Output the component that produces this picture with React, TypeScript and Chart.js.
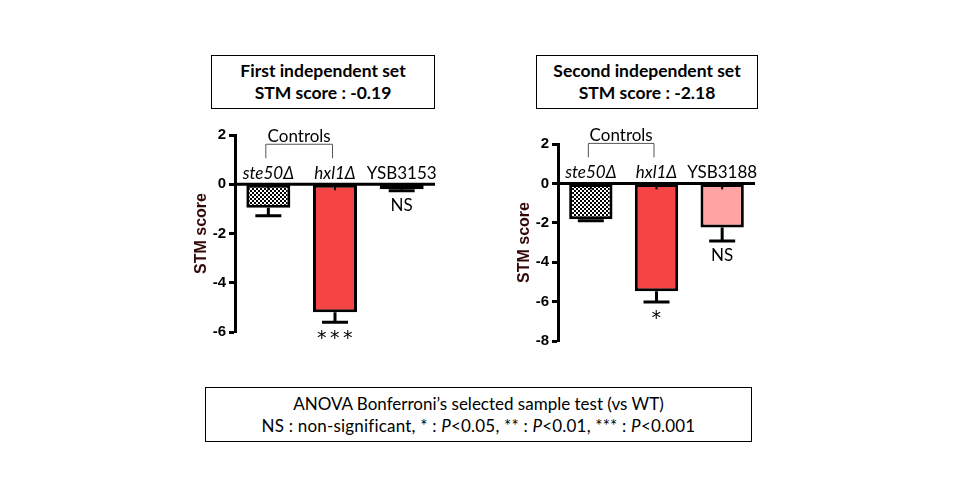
import React, { useEffect, useRef } from "react";
import { Chart, registerables } from "chart.js";
Chart.register(...registerables);

// ---- data ----
const categories1 = ["ste50Δ", "hxl1Δ", "YSB3153"];
const values1 = [-0.95, -5.2, -0.2];
const errors1 = [0.33, 0.4, 0.06];
const signif1 = ["", "***", "NS"];
const yTicks1 = { min: -6, max: 2, step: 2 };

const categories2 = ["ste50Δ", "hxl1Δ", "YSB3188"];
const values2 = [-1.82, -5.48, -2.24];
const errors2 = [0.08, 0.54, 0.68];
const signif2 = ["", "*", "NS"];
const yTicks2 = { min: -8, max: 2, step: 2 };

const italicCats = [true, true, false];
const controlsLabel = "Controls";
const yTitle = "STM score";

const title1 = ["First independent set", "STM score : -0.19"];
const title2 = ["Second independent set", "STM score : -2.18"];

const RED = "#f44444";
const PINK = "#ffa3a3";
const WHITE = "#ffffff";

function makePattern(ctx: CanvasRenderingContext2D) {
  const c = document.createElement("canvas");
  c.width = 4;
  c.height = 4;
  const g = c.getContext("2d")!;
  g.fillStyle = "#fff";
  g.fillRect(0, 0, 4, 4);
  g.fillStyle = "#000";
  g.fillRect(0, 0, 2, 2);
  g.fillRect(2, 2, 2, 2);
  return ctx.createPattern(c, "repeat");
}

type PanelProps = {
  left: number;
  top: number;
  width: number;
  height: number;
  yWidth: number;
  padTop: number;
  padBottom: number;
  padRight: number;
  titlePad: number;
  cats: string[];
  vals: number[];
  errs: number[];
  sig: string[];
  range: { min: number; max: number; step: number };
  thirdColor: string;
};

function Panel(p: PanelProps) {
  const ref = useRef<HTMLCanvasElement>(null);
  useEffect(() => {
    const canvas = ref.current!;
    const ctx0 = canvas.getContext("2d")!;
    const pattern = makePattern(ctx0);
    const annot = {
      id: "annot",
      afterDatasetsDraw(chart: any) {
        const ctx = chart.ctx as CanvasRenderingContext2D;
        const x = chart.scales.x;
        const y = chart.scales.y;
        const area = chart.chartArea;
        const y0 = y.getPixelForValue(0);
        ctx.save();
        // zero line
        ctx.strokeStyle = "#000";
        ctx.lineWidth = 3;
        ctx.beginPath();
        ctx.moveTo(area.left, y0);
        ctx.lineTo(area.right, y0);
        ctx.stroke();
        // error bars
        p.vals.forEach((v, i) => {
          const cx = x.getPixelForValue(i);
          const yEnd = y.getPixelForValue(v);
          const yErr = y.getPixelForValue(v - p.errs[i]);
          ctx.lineWidth = 3;
          ctx.beginPath();
          ctx.moveTo(cx, yEnd);
          ctx.lineTo(cx, yErr);
          ctx.moveTo(cx - 13, yErr);
          ctx.lineTo(cx + 13, yErr);
          ctx.stroke();
          ctx.lineWidth = 2;
          ctx.beginPath();
          ctx.moveTo(cx, y0);
          ctx.lineTo(cx, y0 + 6);
          ctx.stroke();
          // significance
          if (p.sig[i]) {
            ctx.fillStyle = "#000";
            ctx.textAlign = "center";
            ctx.textBaseline = "middle";
            if (p.sig[i].startsWith("*")) {
              ctx.font = "19px 'DejaVu Sans'";
              (ctx as any).letterSpacing = "3.5px";
              ctx.fillText(p.sig[i], cx + 1.5, yErr + 17);
              (ctx as any).letterSpacing = "0px";
            } else {
              ctx.font = "17px Lato";
              ctx.fillText(p.sig[i], cx, yErr + 15);
            }
          }
          // category label
          ctx.fillStyle = "#000";
          ctx.textAlign = "center";
          ctx.textBaseline = "middle";
          ctx.font = (italicCats[i] ? "italic " : "") + "17px Lato";
          ctx.fillText(p.cats[i], cx, y0 - 11);
        });
        // controls bracket
        const c0 = x.getPixelForValue(0);
        const c1 = x.getPixelForValue(1);
        ctx.strokeStyle = "#555";
        ctx.lineWidth = 1;
        ctx.beginPath();
        ctx.moveTo(c0 - 2.5, y0 - 26);
        ctx.lineTo(c0 - 2.5, y0 - 40);
        ctx.lineTo(c1 - 2.5, y0 - 40);
        ctx.lineTo(c1 - 2.5, y0 - 26);
        ctx.stroke();
        ctx.fillStyle = "#000";
        ctx.font = "17px Lato";
        ctx.textAlign = "center";
        ctx.textBaseline = "middle";
        ctx.fillText(controlsLabel, (c0 + c1) / 2 - 2.5, y0 - 48);
        ctx.restore();
      },
    };
    const chart = new Chart(canvas, {
      type: "bar",
      data: {
        labels: p.cats,
        datasets: [
          {
            data: p.vals,
            backgroundColor: [pattern as any, RED, p.thirdColor],
            borderColor: "#000",
            borderWidth: 3,
            borderSkipped: false,
            barPercentage: 0.66,
            categoryPercentage: 1,
          },
        ],
      },
      options: {
        animation: false,
        responsive: false,
        maintainAspectRatio: false,
        layout: {
          padding: { left: 0, top: p.padTop, right: p.padRight, bottom: p.padBottom },
        },
        plugins: {
          legend: { display: false },
          tooltip: { enabled: false },
        },
        scales: {
          x: { display: false, offset: true },
          y: {
            min: p.range.min,
            max: p.range.max,
            ticks: {
              stepSize: p.range.step,
              color: "#000",
              padding: 3,
              font: { family: "Liberation Sans", weight: "bold", size: 15 },
            },
            grid: {
              drawOnChartArea: false,
              drawTicks: true,
              tickLength: 6,
              tickWidth: 3,
              color: "#000",
            },
            border: { display: true, width: 3, color: "#000" },
            title: {
              display: true,
              text: yTitle,
              color: "#330808",
              font: { family: "Liberation Sans", weight: "bold", size: 16 },
              padding: { top: p.titlePad, bottom: 0 },
            },
            afterFit: (s: any) => {
              s.width = p.yWidth;
            },
          },
        },
      },
      plugins: [annot],
    });
    return () => chart.destroy();
  }, []);
  return (
    <canvas
      ref={ref}
      width={p.width}
      height={p.height}
      style={{ position: "absolute", left: p.left, top: p.top, width: p.width, height: p.height }}
    />
  );
}

function Box(props: {
  left: number;
  top: number;
  width: number;
  height: number;
  lines: React.ReactNode[];
  bold?: boolean;
  lineHeight: number;
  size: number;
  spacing?: number[];
}) {
  return (
    <div
      style={{
        position: "absolute",
        left: props.left,
        top: props.top,
        width: props.width,
        height: props.height,
        boxSizing: "border-box",
        border: "1.5px solid #000",
        display: "flex",
        flexDirection: "column",
        justifyContent: "center",
        alignItems: "center",
        fontFamily: "Lato",
        fontWeight: props.bold ? 700 : 400,
        fontSize: props.size,
        lineHeight: props.lineHeight + "px",
        color: "#000",
        background: "#fff",
      }}
    >
      {props.lines.map((l, i) => (
        <div key={i} style={{ letterSpacing: (props.spacing ? props.spacing[i] : 0) + "px", whiteSpace: "nowrap" }}>
          {l}
        </div>
      ))}
    </div>
  );
}

export default function App() {
  return (
    <div style={{ position: "absolute", left: 0, top: 0, width: 960, height: 500, background: "#fff", overflow: "hidden" }}>
      <Box left={211} top={55} width={224} height={54} lines={title1} bold lineHeight={22} size={17.5} />
      <Box left={536} top={55} width={222} height={54} lines={title2} bold lineHeight={22} size={17.5} />
      <Panel
        left={180}
        top={120}
        width={270}
        height={240}
        yWidth={55}
        padTop={15}
        padBottom={28}
        padRight={15}
        titlePad={12}
        cats={categories1}
        vals={values1}
        errs={errors1}
        sig={signif1}
        range={yTicks1}
        thirdColor={WHITE}
      />
      <Panel
        left={500}
        top={120}
        width={270}
        height={240}
        yWidth={58}
        padTop={24}
        padBottom={19}
        padRight={15}
        titlePad={15}
        cats={categories2}
        vals={values2}
        errs={errors2}
        sig={signif2}
        range={yTicks2}
        thirdColor={PINK}
      />
      <Box
        left={205}
        top={387}
        width={547}
        height={55}
        size={17}
        lineHeight={22}
        spacing={[0, 0.2]}
        lines={[
          "ANOVA Bonferroni’s selected sample test (vs WT)",
          <span>
            NS : non-significant, * : <i>P</i>&lt;0.05, ** : <i>P</i>&lt;0.01, *** : <i>P</i>&lt;0.001
          </span>,
        ]}
      />
    </div>
  );
}
